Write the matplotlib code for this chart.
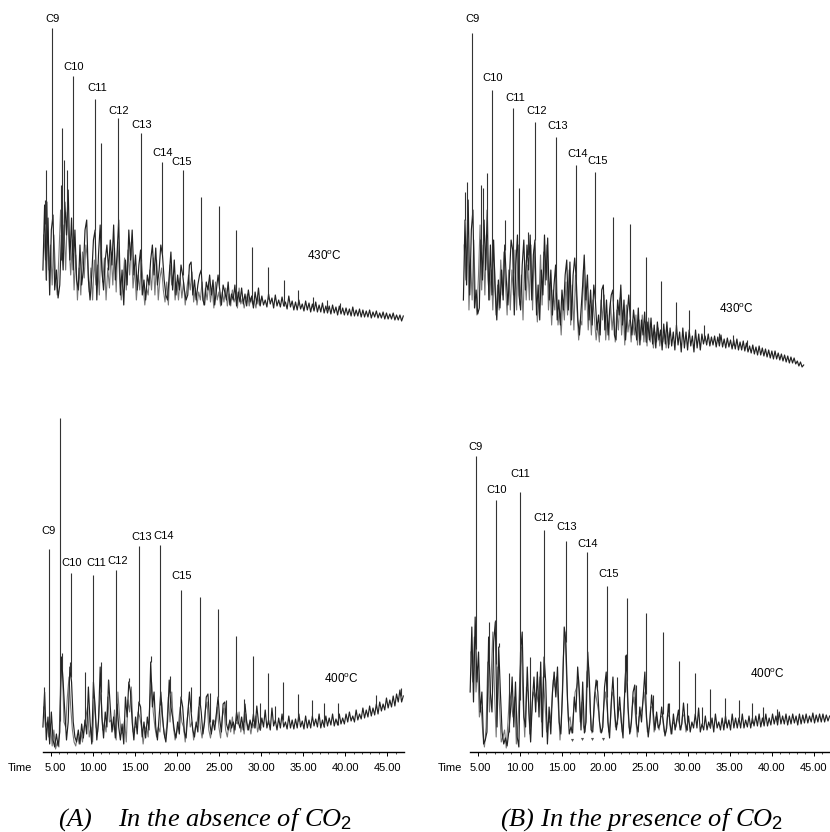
import numpy as np
import matplotlib
matplotlib.use('Agg')
import matplotlib.pyplot as plt
from matplotlib.transforms import ScaledTranslation

plt.rcParams['font.family'] = 'Liberation Sans'
plt.rcParams['mathtext.fontset'] = 'custom'
plt.rcParams['mathtext.rm'] = 'Liberation Sans'
plt.rcParams['mathtext.it'] = 'Liberation Serif:italic'

W = 830
H = 832

# retention time of the scans, minutes
scan_t = np.arange(4.1, 46.95, 0.2)

# (A) 430 C trace
a430_y = [60, 125, 50, 112, 35, 100, 115, 40, 60, 32,
          45, 95, 60, 128, 95, 140, 70, 112, 60, 100,
          50, 40, 85, 45, 60, 100, 110, 50, 30, 55,
          90, 100, 30, 75, 105, 60, 40, 70, 85, 60,
          90, 65, 105, 50, 75, 110, 35, 60, 25, 70,
          45, 100, 70, 100, 55, 75, 40, 65, 80, 35,
          50, 30, 55, 45, 70, 85, 55, 82, 45, 60,
          85, 75, 50, 35, 30, 55, 78, 40, 70, 35,
          55, 40, 65, 55, 40, 30, 35, 65, 68, 35,
          50, 30, 45, 55, 60, 30, 25, 48, 40, 55,
          35, 50, 25, 40, 55, 40, 25, 45, 38, 30,
          48, 25, 36, 30, 45, 24, 38, 28, 42, 26,
          36, 24, 40, 28, 34, 22, 38, 26, 42, 24,
          34, 25, 30, 23, 36, 26, 32, 22, 35, 24,
          30, 23, 33, 24, 28, 21, 34, 23, 29, 20,
          28, 20, 30, 21, 26, 19, 29, 20, 27, 18,
          26, 19, 28, 18, 25, 18, 27, 17, 24, 17,
          24, 16, 25, 17, 23, 15, 24, 16, 22, 15,
          22, 15, 21, 14, 23, 14, 20, 14, 21, 13,
          20, 13, 19, 13, 20, 12, 18, 13, 19, 12,
          17, 12, 18, 11, 17, 11, 16, 11, 17, 10,
          15, 10, 15, 9, 14]
# grey second layer, half a scan later, read for the busy part only
a430_y2 = [95, 70, 128, 60, 85, 45, 95, 55, 35, 75,
           120, 70, 105, 60, 118, 85, 55, 90, 40, 75,
           30, 62, 35, 78, 52, 85, 70, 38, 62, 30,
           70, 45, 65, 35, 92, 48, 72, 30, 62, 42,
           78, 45, 82, 38, 88, 55, 30, 48, 72, 40,
           80, 55, 88, 42, 62, 30, 55, 40, 72, 45,
           25, 42, 35, 60, 40, 72, 35, 70, 30, 52,
           62, 40, 28, 48, 25, 65, 45, 55, 30, 48,
           30, 52, 32, 48, 25, 42, 55, 40, 58, 28,
           42, 25, 38, 30, 48, 25, 42, 30, 48, 28,
           42, 22, 48, 30, 38, 24, 38, 28, 42, 24,
           36, 24, 40, 28, 34, 22, 42, 26, 32, 22,
           30, 36, 24, 32, 26, 30, 22, 34, 25, 30]
a430_peak_t = [4.35, 4.5, 5.22, 6.2, 6.4, 6.64, 7.0, 7.63, 10.3, 11.04, 13.06, 15.75, 18.28, 20.7,
               22.9, 25.05, 27.03, 28.97, 30.83, 32.7, 34.4, 36.2, 37.8, 39.4]
a430_peak_h = [130, 160, 302, 145, 202, 170, 160, 254, 231, 187, 212, 197, 168, 160,
               133, 124, 100, 83, 63, 50, 40, 33, 30, 27]

# (B) 430 C trace
b430_y = [70, 150, 85, 170, 75, 140, 160, 62, 80, 56,
          62, 130, 90, 150, 100, 160, 70, 125, 75, 130,
          80, 50, 90, 62, 100, 70, 125, 90, 65, 95,
          130, 120, 55, 105, 135, 75, 60, 105, 130, 80,
          125, 100, 135, 70, 115, 130, 55, 85, 50, 100,
          75, 135, 90, 132, 70, 100, 55, 85, 105, 50,
          70, 45, 80, 60, 95, 110, 60, 108, 50, 95,
          112, 90, 50, 35, 60, 85, 115, 70, 95, 50,
          80, 45, 85, 70, 40, 55, 35, 80, 85, 40,
          70, 35, 60, 75, 80, 35, 30, 70, 55, 85,
          45, 70, 30, 55, 75, 50, 35, 60, 45, 30,
          62, 25, 50, 35, 58, 28, 48, 30, 52, 26,
          45, 22, 48, 30, 40, 20, 46, 26, 48, 22,
          42, 24, 38, 20, 45, 25, 38, 18, 42, 22,
          38, 20, 40, 24, 34, 18, 40, 22, 36, 20,
          36, 26, 34, 25, 36, 24, 33, 25, 34, 23,
          33, 24, 35, 23, 31, 22, 32, 23, 30, 21,
          30, 21, 31, 20, 28, 20, 29, 19, 27, 18,
          24, 17, 25, 16, 23, 15, 24, 15, 22, 14,
          21, 13, 20, 12, 19, 11, 19, 11, 17, 10,
          16, 9, 15, 8, 14, 7, 13, 7, 12, 6,
          9, 4, 8, 3, 5]
b430_y2 = [125, 90, 150, 60, 110, 70, 130, 75, 55, 95,
           145, 80, 125, 75, 135, 90, 70, 100, 60, 105,
           55, 85, 60, 110, 75, 118, 85, 55, 100, 60,
           100, 75, 120, 60, 125, 65, 95, 50, 110, 70,
           105, 70, 125, 60, 120, 80, 48, 70, 115, 65,
           118, 85, 125, 60, 85, 45, 80, 60, 95, 45,
           60, 35, 70, 50, 88, 55, 100, 45, 85, 40,
           95, 60, 30, 50, 45, 100, 60, 80, 40, 65,
           35, 70, 50, 30, 45, 28, 70, 50, 75, 30,
           55, 30, 68, 40, 58, 28, 60, 40, 72, 35,
           60, 25, 65, 38, 50, 28, 50, 35, 55, 25,
           50, 30, 55, 28, 48, 24, 52, 28, 42, 22,
           38, 28, 42, 24, 36, 28, 40, 22, 38, 26]
b430_peak_t = [4.3, 4.59, 5.22, 6.27, 6.6, 7.02, 7.69, 9.33, 10.37, 11.13, 12.18, 13.1, 15.8, 18.3, 20.69,
               22.95, 25.1, 27.1, 28.99, 30.84, 32.5, 34.4, 36.2, 38.0, 39.8, 41.4]
b430_peak_h = [178, 188, 337, 185, 182, 197, 280, 150, 262, 182, 138, 248, 233, 205, 198,
               153, 146, 113, 89, 68, 60, 45, 37, 35, 30, 20]

# (A) 400 C trace
a400_y = [25, 60, 12, 35, 8, 40, 12, 5, 18, 6,
          20, 95, 70, 40, 12, 30, 85, 70, 30, 15,
          10, 22, 8, 28, 14, 32, 18, 65, 30, 8,
          70, 45, 12, 30, 85, 35, 14, 40, 25, 72,
          45, 20, 35, 14, 48, 25, 12, 28, 8, 55,
          35, 70, 60, 30, 12, 35, 18, 50, 45, 15,
          30, 14, 35, 22, 90, 45, 60, 25, 12, 35,
          60, 35, 18, 10, 30, 72, 45, 35, 22, 14,
          30, 18, 55, 45, 20, 14, 38, 60, 40, 22,
          15, 30, 20, 55, 40, 18, 30, 55, 58, 30,
          18, 32, 22, 38, 55, 32, 20, 48, 50, 28,
          22, 32, 24, 30, 22, 40, 30, 24, 35, 22,
          48, 30, 22, 32, 24, 38, 24, 46, 30, 22,
          34, 25, 42, 24, 32, 22, 44, 26, 32, 22,
          34, 24, 38, 25, 30, 23, 36, 24, 32, 23,
          33, 24, 38, 25, 31, 23, 36, 24, 32, 24,
          36, 26, 33, 25, 38, 24, 32, 25, 36, 26,
          34, 27, 38, 26, 33, 27, 38, 28, 34, 28,
          38, 30, 40, 31, 36, 30, 42, 32, 38, 33,
          44, 34, 42, 35, 46, 36, 44, 37, 48, 38,
          50, 41, 48, 42, 54, 44, 52, 45, 56, 46,
          58, 50, 62, 50, 56]
a400_y2 = [45, 25, 30, 15, 28, 6, 22, 3, 10, 5,
           70, 88, 30, 25, 55, 75, 45, 22, 10, 6,
           18, 8, 20, 10, 25, 35, 45, 15, 25, 10,
           55, 25, 20, 45, 60, 22, 30, 20, 55, 30,
           32, 22, 42, 12, 60, 35, 18, 20, 32, 10,
           52, 40, 65, 20, 25, 25, 40, 35, 25, 8,
           22, 26, 15, 50, 70, 40, 25, 15, 25, 20,
           50, 25, 14, 25, 55, 30, 60, 25, 12, 20,
           28, 45, 30, 25, 10, 30, 45, 25, 30, 12,
           25, 28, 45, 25, 14, 25, 42, 50, 22, 14,
           25, 32, 28, 45, 25, 14, 35, 44, 22, 15,
           28, 20, 35, 18, 30, 28, 40, 20, 30, 18,
           38, 22, 28, 18, 30, 24, 36, 20, 28, 24]
a400_peak_t = [4.2, 4.8, 6.13, 6.4, 7.37, 7.43, 9.04, 10.05, 11.0, 11.85, 12.8, 14.3, 15.5, 16.9, 18.0, 19.2,
               20.5, 21.7, 22.8, 23.9, 24.9, 25.9, 27.0, 27.96, 29.0, 29.9, 30.8, 31.7, 32.6, 34.4, 36.1, 37.5, 39.1,
               43.7, 46.6]
a400_peak_h = [65, 203, 334, 99, 90, 179, 80, 177, 90, 72, 182, 74, 206, 96, 207, 76,
               162, 65, 155, 59, 143, 52, 116, 53, 96, 49, 79, 46, 70, 58, 52, 49, 49,
               57, 64]

# (B) 400 C trace
b400_y = [60, 125, 50, 135, 70, 100, 40, 60, 8, 12,
          20, 115, 60, 40, 110, 130, 25, 105, 60, 20,
          8, 14, 6, 20, 40, 75, 25, 70, 15, 5,
          100, 120, 35, 25, 85, 40, 10, 50, 75, 40,
          80, 35, 90, 15, 95, 70, 8, 45, 18, 60,
          80, 55, 85, 30, 18, 60, 125, 110, 50, 18,
          25, 19, 55, 40, 85, 60, 22, 70, 19, 30,
          100, 70, 22, 20, 55, 72, 60, 30, 19, 25,
          65, 80, 30, 14, 50, 75, 40, 22, 35, 55,
          30, 14, 60, 97, 45, 18, 30, 60, 67, 28,
          20, 45, 30, 55, 80, 35, 15, 30, 57, 40,
          22, 40, 24, 28, 45, 30, 16, 24, 48, 28,
          18, 38, 22, 32, 42, 22, 28, 49, 30, 22,
          36, 20, 30, 24, 38, 24, 44, 20, 28, 22,
          36, 22, 30, 24, 34, 20, 38, 24, 30, 22,
          34, 22, 36, 24, 32, 22, 38, 24, 34, 24,
          34, 24, 38, 24, 32, 25, 36, 24, 34, 26,
          36, 26, 38, 25, 34, 26, 38, 26, 34, 27,
          38, 28, 36, 27, 40, 28, 36, 28, 38, 27,
          36, 28, 38, 29, 36, 27, 38, 28, 37, 29,
          38, 29, 36, 30, 39, 29, 37, 30, 38, 30,
          38, 30, 37, 31, 36]
b400_y2 = [100, 70, 115, 60, 85, 35, 45, 20, 5, 25,
           90, 40, 75, 120, 60, 15, 85, 45, 10, 15,
           22, 4, 30, 60, 50, 35, 55, 8, 30, 70,
           105, 50, 15, 65, 60, 18, 35, 60, 55, 60,
           50, 75, 30, 75, 50, 20, 30, 30, 45, 72,
           65, 75, 45, 12, 40, 95, 120, 70, 30, 35,
           19, 40, 60, 65, 75, 30, 50, 25, 20, 80,
           85, 40, 19, 35, 60, 50, 40, 20, 20, 45,
           60, 45, 20, 30, 60, 55, 25, 30, 45, 40,
           20, 40, 80, 60, 25, 20, 45, 55, 35, 15,
           35, 38, 45, 60, 45, 20, 25, 45, 45, 20,
           35, 28, 22, 36, 35, 20, 20, 38, 35, 18,
           30, 28, 25, 36, 28, 22, 38, 35, 20, 30]
b400_peak_t = [4.8, 6.4, 7.0, 7.18, 7.5, 8.7, 10.0, 11.2, 12.85, 14.1, 15.5, 16.9, 18.0, 19.25, 20.4, 21.6,
               22.5, 22.8, 23.85, 25.0, 25.9, 27.0, 27.8, 29.0, 29.9, 30.9, 31.7, 32.7, 34.4, 36.1, 37.6, 39.0, 40.6]
b400_peak_h = [296, 130, 132, 252, 109, 79, 260, 95, 222, 79, 211, 85, 200, 72, 166, 75,
               97, 154, 67, 139, 57, 120, 49, 91, 49, 79, 45, 63, 54, 52, 49, 45, 43]
# little baseline marks under the B 400 C trace
b400_mark_t = [16.2, 17.4, 18.6, 19.9]
b400_mark_h = [12, 13, 13, 13]

carbon_labels = ['C9', 'C10', 'C11', 'C12', 'C13', 'C14', 'C15']
tick_t = [5, 10, 15, 20, 25, 30, 35, 40, 45]
tick_labels = ['5.00', '10.00', '15.00', '20.00', '25.00', '30.00', '35.00', '40.00', '45.00']


def px_text(x, y, s, **kw):
    fig.text(x / W, 1 - y / H, s, ha='center', va='center', **kw)


def panel(left, right, floor, top, t0, x0, scale, y, y2, peak_t, peak_h):
    # one chromatogram; y units are pixels above the floor, t0 sits at x0
    ax = fig.add_axes([left / W, 1 - floor / H, (right - left) / W, (floor - top) / H])
    ax.set_xlim(t0 + (left - x0) / scale, t0 + (right - x0) / scale)
    ax.set_ylim(0, floor - top)
    ax.plot(scan_t[:len(y2)] + 0.1, y2, color='#777777', lw=0.8, clip_on=False)
    ax.plot(scan_t, y, color='#222222', lw=0.85, clip_on=False)
    base = np.interp(peak_t, scan_t, y)
    ax.vlines(peak_t, base, peak_h, color='#333333', lw=0.8)
    for s in ['top', 'left', 'right', 'bottom']:
        ax.spines[s].set_visible(False)
    ax.set_yticks([])
    ax.set_xticks([])
    ax.patch.set_alpha(0)
    return ax


def time_axis(ax, first_shift):
    ax.spines['bottom'].set_visible(True)
    ax.spines['bottom'].set_linewidth(1.0)
    ax.set_xticks(tick_t)
    ax.set_xticklabels(tick_labels, fontsize=8)
    ax.set_xticks(np.arange(5, 47), minor=True)
    ax.tick_params(axis='x', which='major', length=3, width=0.7, pad=5)
    ax.tick_params(axis='x', which='minor', length=1.5, width=0.5)
    lab = ax.get_xticklabels()[0]
    lab.set_transform(lab.get_transform() + ScaledTranslation(first_shift / 100, 0, fig.dpi_scale_trans))


fig = plt.figure(figsize=(W / 100, H / 100), dpi=100)

panel(43, 404, 330, 10, 5, 50.5, 8.42, a430_y, a430_y2, a430_peak_t, a430_peak_h)
panel(463, 805, 370, 10, 5.22, 472.3, 7.95, b430_y, b430_y2, b430_peak_t, b430_peak_h)
ax_a = panel(43, 404, 752, 400, 5, 50.5, 8.42, a400_y, a400_y2, a400_peak_t, a400_peak_h)
ax_b = panel(470, 830, 752, 400, 5, 477.7, 8.4, b400_y, b400_y2, b400_peak_t, b400_peak_h)
ax_b.scatter(b400_mark_t, b400_mark_h, marker='v', s=5, color='#555555', linewidths=0)

time_axis(ax_a, 4.5)
time_axis(ax_b, 2.3)

label_a430 = [(52.7, 19), (74, 67), (97, 88), (119, 111), (142, 125), (163, 153), (182, 162)]
label_b430 = [(472, 19), (493, 78), (515, 98), (537, 111), (558, 126), (578, 154), (598, 161)]
label_a400 = [(48, 531), (72, 563), (96, 563), (118, 561), (142, 537), (164, 536), (182, 576)]
label_b400 = [(475, 447), (497, 490), (520, 474), (544, 518), (567, 527), (588, 544), (609, 574)]
for spots in [label_a430, label_b430, label_a400, label_b400]:
    for (x, y), s in zip(spots, carbon_labels):
        px_text(x, y, s, fontsize=8)

px_text(324, 256, '430$^{\\mathrm{o}}$C', fontsize=8.5)
px_text(736, 309, '430$^{\\mathrm{o}}$C', fontsize=8.5)
px_text(341, 679, '400$^{\\mathrm{o}}$C', fontsize=8.5)
px_text(767, 674, '400$^{\\mathrm{o}}$C', fontsize=8.5)

px_text(20, 768, 'Time', fontsize=8)
px_text(450, 768, 'Time', fontsize=8)

fig.text(58 / W, 1 - 820 / H, '(A)    In the absence of $CO_2$', family='Liberation Serif', style='italic',
         fontsize=19, ha='left', va='center')
fig.text(500 / W, 1 - 820 / H, '(B) In the presence of $CO_2$', family='Liberation Serif', style='italic',
         fontsize=19, ha='left', va='center')

fig.savefig('out.png', dpi=100)
